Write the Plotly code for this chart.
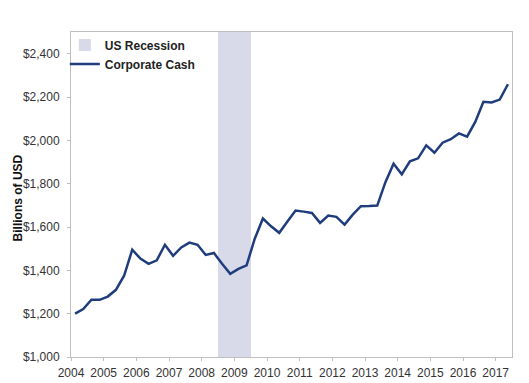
import plotly.graph_objects as go

# Quarterly corporate cash (billions USD), 2004Q1 .. 2017Q2
start_year = 2004.125
quarter_step = 0.25
cash = [1200, 1221, 1264, 1264, 1279, 1310, 1375, 1495, 1454, 1430,
        1446, 1518, 1467, 1506, 1528, 1518, 1471, 1480, 1430, 1384,
        1407, 1423, 1546, 1639, 1603, 1573, 1625, 1676, 1671, 1665,
        1619, 1653, 1647, 1611, 1657, 1696, 1697, 1699, 1807, 1892,
        1843, 1903, 1917, 1977, 1943, 1989, 2005, 2032, 2017, 2085,
        2178, 2175, 2188, 2259]
dates = [start_year + quarter_step * i for i in range(len(cash))]

recession = [2008.5, 2009.5]
y_range = [1000, 2500]
x_ticks = list(range(2004, 2018))
y_ticks = list(range(1000, 2401, 200))
y_tick_labels = ["${:,}".format(v) for v in y_ticks]
y_title = "Billions of USD"

fig = go.Figure()
fig.add_trace(go.Bar(
    x=[(recession[0] + recession[1]) / 2],
    y=[y_range[1] - y_range[0]],
    base=[y_range[0]],
    width=[recession[1] - recession[0]],
    marker=dict(color="#d8daea", line=dict(width=0)),
    name="US Recession",
    hoverinfo="skip",
))
fig.add_trace(go.Scatter(
    x=dates, y=cash, mode="lines",
    line=dict(color="#1f3d7c", width=2.5),
    name="Corporate Cash",
))

axis_color = "#bfbfbf"
fig.update_layout(
    width=529, height=383,
    margin=dict(l=71, r=17, t=32, b=26),
    paper_bgcolor="white", plot_bgcolor="white",
    font=dict(family="Liberation Sans, Arial, sans-serif", size=12, color="#333333"),
    showlegend=True,
    legend=dict(
        x=-0.014, y=1.005, xanchor="left", yanchor="top",
        bgcolor="rgba(0,0,0,0)",
        font=dict(family="Liberation Sans, Arial, sans-serif", size=12, color="#222222", weight="bold"),
        itemwidth=30, tracegroupgap=0,
    ),
    xaxis=dict(
        range=[2004, 2017.5], tickvals=x_ticks, ticktext=[str(t) for t in x_ticks],
        showgrid=False, zeroline=False, automargin=False,
        showline=True, linecolor=axis_color, linewidth=1, mirror=True,
        ticks="outside", ticklen=3, tickcolor=axis_color, ticklabelstandoff=2,
        tickfont=dict(size=12, color="#333333"),
    ),
    yaxis=dict(
        range=y_range, tickvals=y_ticks, ticktext=y_tick_labels,
        showgrid=False, zeroline=False, automargin=False,
        showline=True, linecolor=axis_color, linewidth=1, mirror=True,
        ticks="outside", ticklen=3, tickcolor=axis_color, ticklabelstandoff=5,
        tickfont=dict(size=12, color="#333333"),
    ),
    annotations=[dict(
        text=y_title, textangle=-90, showarrow=False,
        xref="paper", yref="paper", x=-0.121, y=0.49,
        xanchor="center", yanchor="middle",
        font=dict(size=12, color="#111111", weight="bold"),
    )],
    bargap=0,
)

fig.write_html("out.html", config={"displayModeBar": False},
               post_script="document.body.style.margin='0';")
